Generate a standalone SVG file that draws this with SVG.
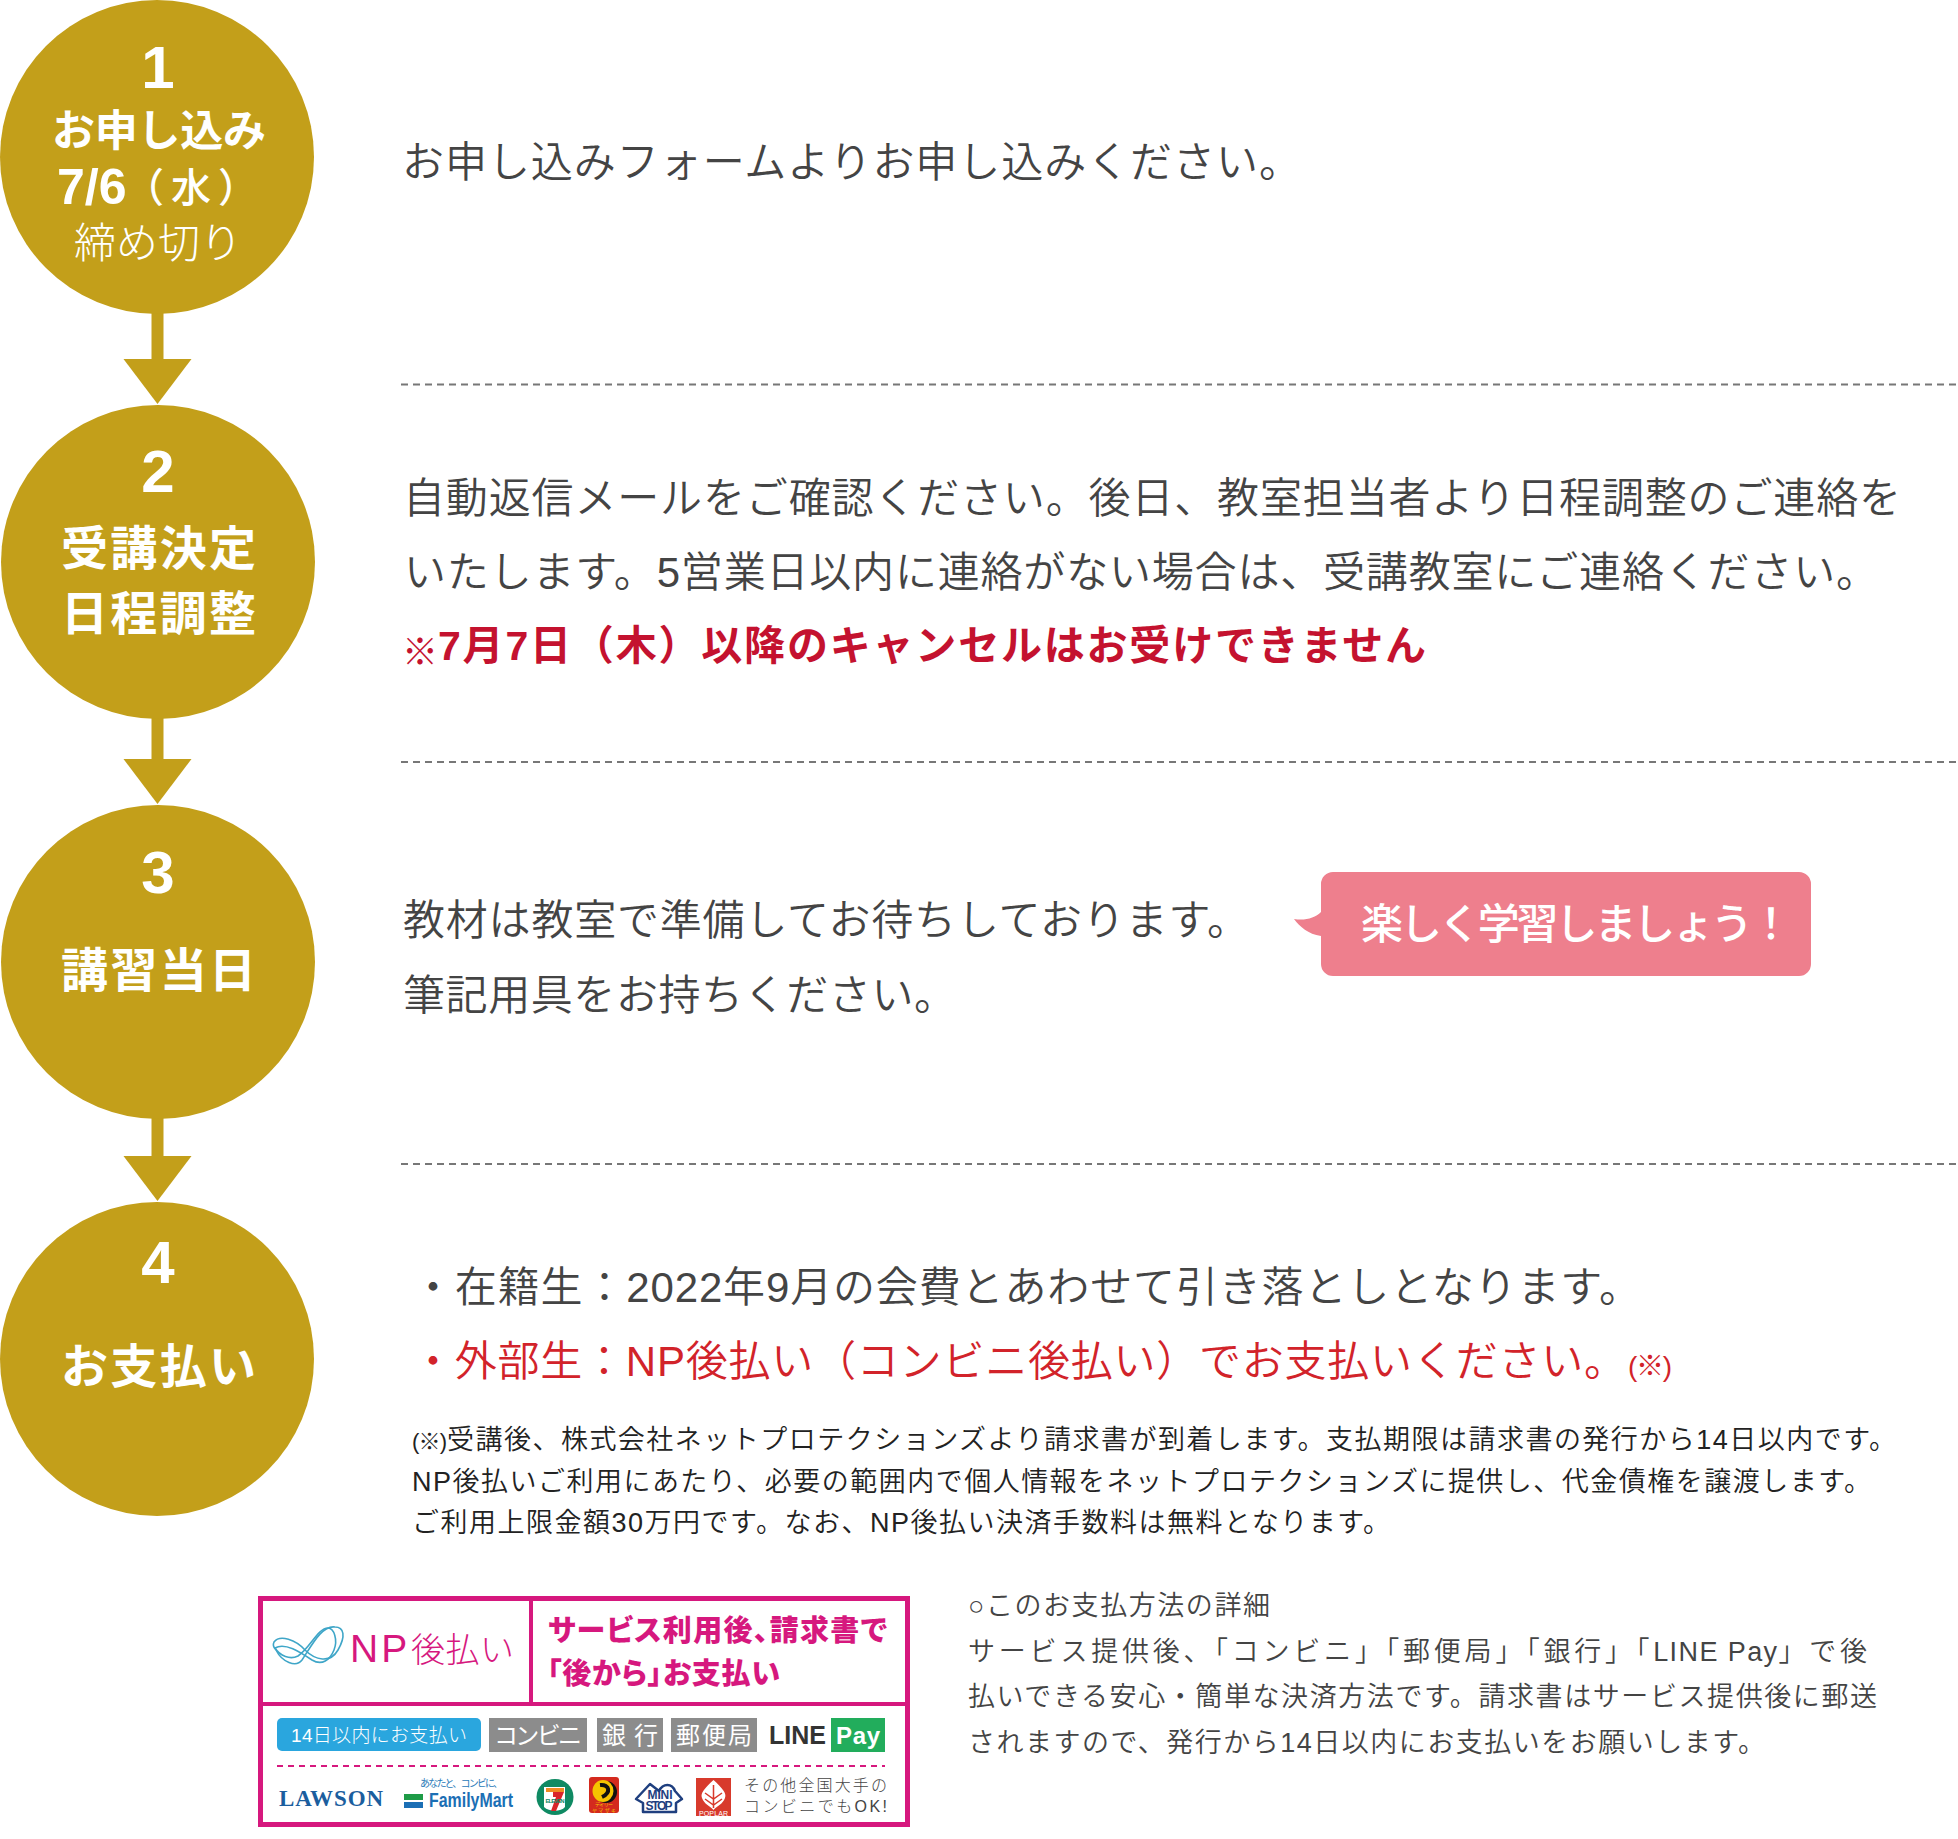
<svg xmlns="http://www.w3.org/2000/svg" width="1958" height="1839" viewBox="0 0 1958 1839">
<defs>
<style>
text{font-family:"Liberation Sans","Noto Sans CJK JP",sans-serif}
.c{fill:#c39f1a}
.n{fill:#fff;font-weight:700;font-size:60px;text-anchor:middle}
.h{fill:#fff;font-weight:700;font-size:47px}
.b{fill:#444;font-size:42px;font-weight:350}
.red{fill:#d2232a}
.dred{fill:#c4122f;font-weight:700;font-size:41px}
.f{fill:#222;font-size:27px;font-weight:350}
.d{fill:#444;font-size:27px;font-weight:350}
.div{stroke:#777;stroke-width:2;stroke-dasharray:7 5;fill:none}
.shaft{stroke:#c39f1a;stroke-width:12;fill:none;marker-end:url(#head)}
.pk{fill:#d6187e}
.gray{fill:#8c8c8c}
.wt{fill:#fff;font-size:24px;font-weight:400;text-anchor:middle}
.np{fill:none;stroke:#3fa6c8;stroke-width:1.6}
.palt{font-feature-settings:"palt"}
</style>
<marker id="head" markerUnits="userSpaceOnUse" markerWidth="68" markerHeight="46" refX="34" refY="0" orient="0" overflow="visible"><polygon points="0,0 68,0 34,45" fill="#c39f1a"/></marker>
</defs>
<rect width="1958" height="1839" fill="#fff"/>
<g id="connectors">
<line class="shaft" x1="157.500" y1="310" x2="157.500" y2="359"/>
<line class="shaft" x1="157.500" y1="715" x2="157.500" y2="759"/>
<line class="shaft" x1="157.500" y1="1115" x2="157.500" y2="1156"/>
</g>
<g id="dividers">
<line class="div" x1="401" y1="384.500" x2="1958" y2="384.500"/>
<line class="div" x1="401" y1="762" x2="1958" y2="762"/>
<line class="div" x1="401" y1="1164" x2="1958" y2="1164"/>
</g>
<g id="node1">
<circle class="c" cx="157" cy="157" r="157"/>
<text class="n" x="158" y="88">1</text>
<text class="h" x="52" y="146" style="font-size:43px" textLength="214">お申し込み</text>
<text class="h" x="57" y="204" style="font-size:50px">7/6</text>
<text class="h" x="124" y="202" style="font-size:40px;font-weight:500;letter-spacing:7px">（水）</text>
<text class="h" x="74" y="258" style="font-size:42px;font-weight:300" textLength="168">締め切り</text>
</g>
<g id="node2">
<circle class="c" cx="158" cy="562" r="157"/>
<text class="n" x="158" y="492">2</text>
<text class="h" x="61" y="565" textLength="195">受講決定</text>
<text class="h" x="61" y="630" textLength="195">日程調整</text>
</g>
<g id="node3">
<circle class="c" cx="158" cy="962" r="157"/>
<text class="n" x="158" y="893">3</text>
<text class="h" x="61" y="987" textLength="195">講習当日</text>
</g>
<g id="node4">
<circle class="c" cx="157" cy="1359" r="157"/>
<text class="n" x="158" y="1283">4</text>
<text class="h" x="61" y="1383" textLength="195">お支払い</text>
</g>
<g id="text1">
<text class="b" x="402" y="177" textLength="899">お申し込みフォームよりお申し込みください。</text>
</g>
<g id="text2">
<text class="b" x="403" y="513" textLength="1498">自動返信メールをご確認ください。後日、教室担当者より日程調整のご連絡を</text>
<text class="b" x="404" y="587" textLength="1474">いたします。5営業日以内に連絡がない場合は、受講教室にご連絡ください。</text>
<text class="dred" x="402" y="665" style="font-size:36px">※</text>
<text class="dred" x="438" y="660" textLength="988">7月7日（木）以降のキャンセルはお受けできません</text>
</g>
<g id="text3">
<text class="b" x="403" y="935" textLength="846">教材は教室で準備してお待ちしております。</text>
<text class="b" x="403" y="1010" textLength="553">筆記用具をお持ちください。</text>
</g>
<g id="bubble">
<path d="M1333 872H1799a12 12 0 0 1 12 12V964a12 12 0 0 1-12 12H1333a12 12 0 0 1-12-12V936C1308 934 1300 927 1294 919C1305 921 1315 918 1321 912V884a12 12 0 0 1 12-12Z" fill="#ee7f8d"/>
<text x="1361" y="939" fill="#fff" style="font-size:42px;font-weight:500" textLength="431">楽しく学習しましょう！</text>
</g>
<g id="text4">
<text class="b" x="412" y="1302" textLength="1229">・在籍生：2022年9月の会費とあわせて引き落としとなります。</text>
<text class="b red" x="412" y="1376" textLength="1214">・外部生：NP後払い（コンビニ後払い）でお支払いください。</text>
<text class="red" x="1628" y="1376" style="font-size:28px" textLength="44">(※)</text>
<text class="f" x="412" y="1449" style="font-size:22px" textLength="35">(※)</text>
<text class="f" x="447" y="1449" textLength="1449">受講後、株式会社ネットプロテクションズより請求書が到着します。支払期限は請求書の発行から14日以内です。</text>
<text class="f" x="412" y="1491" textLength="1459">NP後払いご利用にあたり、必要の範囲内で個人情報をネットプロテクションズに提供し、代金債権を譲渡します。</text>
<text class="f" x="412" y="1532" textLength="978">ご利用上限金額30万円です。なお、NP後払い決済手数料は無料となります。</text>
</g>
<g id="details">
<text class="d" x="968" y="1615" textLength="302">○このお支払方法の詳細</text>
<text class="d" x="968" y="1661" style="letter-spacing:3.800px">サービス提供後、「コンビニ」「郵便局」「銀行」「<tspan style="letter-spacing:1.400px">LINE Pay</tspan>」で後</text>
<text class="d" x="968" y="1706" textLength="909">払いできる安心・簡単な決済方法です。請求書はサービス提供後に郵送</text>
<text class="d" x="968" y="1752" textLength="797">されますので、発行から14日以内にお支払いをお願いします。</text>
</g>
<g id="np-banner">
<rect x="260.500" y="1598.500" width="647" height="226" fill="#fff" stroke="#d6187e" stroke-width="5"/>
<path d="M260 1704H908M531 1598V1704" stroke="#d6187e" stroke-width="4" fill="none"/>
<g id="np-logo">
<path class="np" d="M274 1642C280 1634 296 1640 305 1650C315 1660 330 1664 338 1650C346 1636 344 1627 335 1627C322 1625 312 1645 302 1660C296 1668 282 1662 276 1650C273 1647 273 1644 274 1642Z"/>
<path class="np" d="M275 1648C285 1642 300 1652 312 1660C322 1666 330 1660 334 1650C338 1640 334 1628 328 1628C318 1628 310 1648 298 1656C290 1660 280 1656 275 1648Z"/>
</g>
<text class="pk" y="1662" style="font-weight:300"><tspan x="350" style="font-size:39px;letter-spacing:3px">NP</tspan><tspan x="411" style="font-size:34px;letter-spacing:.500px">後払い</tspan></text>
<text class="pk palt" x="548" y="1641" style="font-size:29px;font-weight:900" textLength="339">サービス利用後、請求書で</text>
<text class="pk palt" x="547" y="1684" style="font-size:29px;font-weight:900" textLength="233">「後から」お支払い</text>
<rect x="277" y="1718" width="204" height="33" rx="5" fill="#2aa6de"/>
<text class="wt" x="379" y="1742" style="font-size:19px;font-weight:300" textLength="176">14日以内にお支払い</text>
<rect class="gray" x="489" y="1718" width="98" height="34"/>
<text class="wt" x="538" y="1744" textLength="88">コンビニ</text>
<rect class="gray" x="597" y="1718" width="66" height="34"/>
<text class="wt" x="630" y="1744" textLength="56">銀行</text>
<rect class="gray" x="671" y="1718" width="86" height="34"/>
<text class="wt" x="714" y="1744" textLength="76">郵便局</text>
<text x="769" y="1744" fill="#333" style="font-size:25px;font-weight:700" textLength="57">LINE</text>
<rect x="831" y="1718" width="54" height="34" fill="#22ad5c"/>
<text x="858" y="1744" fill="#fff" text-anchor="middle" style="font-size:24px;font-weight:700" textLength="44">Pay</text>
<line x1="277" y1="1766" x2="885" y2="1766" stroke="#d6187e" stroke-width="2" stroke-dasharray="6 5"/>
<text x="279" y="1806" fill="#1b5e9e" style="font-family:'Liberation Serif',serif;font-size:23px;font-weight:700" textLength="104">LAWSON</text>
<text x="420" y="1787" fill="#2a7ab8" style="font-size:10px" textLength="83">あなたと、コンビに、</text>
<rect x="404" y="1794" width="19" height="6" fill="#1e9b47"/>
<rect x="404" y="1802" width="19" height="6" fill="#1b6fb5"/>
<text x="429" y="1807" fill="#1b6fb5" style="font-size:21px;font-weight:700" textLength="84" lengthAdjust="spacingAndGlyphs">FamilyMart</text>
<g id="seven">
<ellipse cx="555" cy="1797" rx="18.500" ry="18" fill="#0f8a63"/>
<path d="M544 1787H565V1807C561 1812 549 1812 544 1807Z" fill="#fff"/>
<rect x="546" y="1788" width="18" height="4" fill="#ef8a22"/>
<path d="M553 1792H564L556 1811H551L556 1797H553Z" fill="#d9252a"/>
<text x="555" y="1803" text-anchor="middle" fill="#0f8a63" style="font-size:6px;font-weight:700" textLength="19">ELEVEN</text>
</g>
<g id="daily">
<rect x="589" y="1777" width="30" height="36" rx="3" fill="#d42a1e"/>
<ellipse cx="606" cy="1792" rx="11" ry="11" fill="#111"/>
<ellipse cx="603" cy="1791" rx="10.500" ry="11" fill="#f5c400"/>
<path d="M600 1785C610 1784 611 1793 602 1797" stroke="#111" stroke-width="4" fill="none"/>
<text x="604" y="1806" text-anchor="middle" fill="#f5c400" style="font-size:5px" textLength="18">デイリー</text>
<text x="604" y="1811.500" text-anchor="middle" fill="#f5c400" style="font-size:5px" textLength="24">ヤマザキ</text>
</g>
<g id="ministop">
<path d="M636 1799L650 1784L659 1791C663 1783 672 1783 675 1791L682 1799L676 1803V1812H643V1803Z" fill="#fff" stroke="#1f3f7f" stroke-width="2.500" stroke-linejoin="round"/>
<text x="660" y="1799" text-anchor="middle" fill="#1f3f7f" style="font-size:12px;font-weight:700" textLength="25">MINI</text>
<text x="659" y="1809.500" text-anchor="middle" fill="#1f3f7f" style="font-size:12px;font-weight:700" textLength="27">STOP</text>
</g>
<g id="poplar">
<rect x="696" y="1778" width="35" height="38" fill="#d83a2c"/>
<path d="M713.500 1780C722 1788 727 1793 725 1798C723 1804 717 1806 713.500 1810C710 1806 704 1804 702 1798C700 1793 705 1788 713.500 1780Z" fill="#fff"/>
<path d="M713.500 1785V1808M705 1793L713.500 1799L722 1793M705 1799L713.500 1805L722 1799" stroke="#d83a2c" stroke-width="1.500" fill="none"/>
<text x="713.500" y="1815.500" text-anchor="middle" fill="#fff" style="font-size:7px" textLength="29">POPLAR</text>
</g>
<text x="744" y="1791" fill="#444" style="font-size:16px;font-weight:300" textLength="143">その他全国大手の</text>
<text x="744" y="1812" fill="#444" style="font-size:16px;font-weight:300" textLength="143">コンビニでもOK!</text>
</g>
</svg>
